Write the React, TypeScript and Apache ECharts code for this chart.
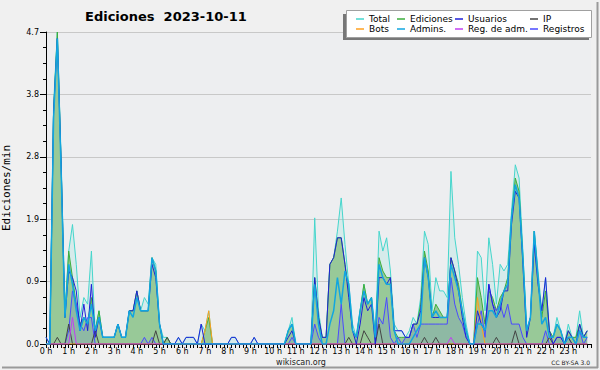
import React, { useEffect, useRef } from "react";
import * as echarts from "echarts";

// 10-minute bins (144 per day), edits per minute
const total = [
  0.1, 0, 3.6, 4.7, 2.8, 0.5,
  1.4, 1.8, 1.2, 0.4, 0.7, 0.6,
  1.4, 0.2, 0.5, 0.1, 0.1, 0.1,
  0.1, 0.3, 0.1, 0.1, 0.5, 0.5,
  0.8, 0.5, 0.7, 0.6, 1.3, 1.2,
  0.3, 0.1, 0.1, 0, 0, 0.1,
  0, 0.1, 0.1, 0.1, 0, 0.3,
  0.2, 0.5, 0, 0, 0, 0,
  0, 0.1, 0.1, 0, 0, 0,
  0, 0.1, 0, 0, 0, 0,
  0, 0, 0, 0, 0.2, 0.4,
  0, 0, 0, 0, 0, 1.9,
  0.5, 0.1, 0.1, 1.2, 1.3, 1.7,
  2.2, 1.5, 0.9, 0.3, 0.1, 0.5,
  0.9, 0.6, 0.7, 0.1, 1.7, 1.4,
  1.6, 1.1, 0.3, 0.2, 0.2, 0.1,
  0.2, 0.4, 0.3, 0.7, 1.7, 1.5,
  0.5, 1.0, 0.8, 0.8, 0.7, 2.6,
  1.6, 1.2, 0.7, 0.3, 0, 0,
  1.4, 1.3, 0.5, 1.6, 1.2, 0.6,
  1.2, 1.1, 1.2, 2.0, 2.7, 2.5,
  1.4, 0.2, 0.4, 1.7, 1.1, 0.5,
  1.0, 0.2, 0.1, 0.4, 0.2, 0,
  0.3, 0.1, 0.1, 0.5, 0.1, 0.2,
];

const ediciones = [
  0, 0, 3.5, 4.7, 2.7, 0.4,
  1.4, 1.0, 0.6, 0.3, 0.4, 0.3,
  0.7, 0.2, 0.5, 0.1, 0.1, 0.1,
  0.1, 0.3, 0.1, 0.1, 0.5, 0.5,
  0.8, 0.5, 0.5, 0.5, 1.3, 1.1,
  0.3, 0, 0.1, 0, 0, 0,
  0, 0, 0, 0, 0, 0,
  0.2, 0.4, 0, 0, 0, 0,
  0, 0, 0, 0, 0, 0,
  0, 0, 0, 0, 0, 0,
  0, 0, 0, 0, 0.2, 0.3,
  0, 0, 0, 0, 0, 1.0,
  0.4, 0.1, 0.1, 1.2, 1.3, 1.6,
  1.6, 1.2, 0.8, 0.2, 0.1, 0.5,
  0.9, 0.6, 0.7, 0.1, 1.3, 1.1,
  1.0, 1.0, 0.2, 0.1, 0.1, 0.1,
  0.1, 0.3, 0.3, 0.6, 1.4, 1.1,
  0.4, 0.6, 0.5, 0.4, 0.4, 1.3,
  1.1, 0.9, 0.5, 0.2, 0, 0,
  1.0, 0.7, 0.3, 0.8, 0.7, 0.5,
  0.7, 0.8, 1.0, 1.9, 2.5, 2.3,
  1.3, 0.2, 0.4, 1.7, 1.0, 0.4,
  0.8, 0.2, 0.1, 0.3, 0.2, 0,
  0.2, 0.1, 0.1, 0.3, 0.1, 0.2,
];

const usuarios = [
  0.1, 0, 3.5, 4.6, 2.7, 0.4,
  1.1, 1.0, 0.8, 0.2, 0.6, 0.2,
  0.9, 0.1, 0.4, 0.1, 0.1, 0.1,
  0.1, 0.3, 0.1, 0.1, 0.5, 0.5,
  0.8, 0.5, 0.5, 0.5, 1.2, 1.0,
  0.3, 0, 0, 0, 0, 0.1,
  0, 0.1, 0.1, 0.1, 0, 0.3,
  0, 0, 0, 0, 0, 0,
  0, 0.1, 0.1, 0, 0, 0,
  0, 0.1, 0, 0, 0, 0,
  0, 0, 0, 0, 0.1, 0.2,
  0, 0, 0, 0, 0, 1.0,
  0.4, 0.1, 0.1, 1.2, 1.3, 1.6,
  1.6, 1.2, 0.7, 0.2, 0, 0.3,
  0.7, 0.5, 0.6, 0, 1.0, 1.0,
  0.9, 1.0, 0.2, 0.2, 0.2, 0.1,
  0.1, 0.3, 0.3, 0.5, 1.3, 1.0,
  0.4, 0.4, 0.4, 0.4, 0.4, 1.3,
  1.1, 0.8, 0.4, 0.1, 0, 0,
  0.5, 0.3, 0.2, 0.9, 0.6, 0.4,
  0.5, 0.8, 0.8, 1.8, 2.3, 2.2,
  1.2, 0.1, 0.4, 1.5, 0.9, 0.5,
  1.0, 0.2, 0, 0.1, 0.1, 0,
  0.2, 0.1, 0, 0.3, 0.1, 0.2,
];

const ip = [
  0, 0, 0, 0.1, 0, 0,
  0.3, 0, 0, 0, 0, 0,
  0, 0.2, 0, 0, 0, 0,
  0, 0, 0, 0, 0, 0,
  0, 0, 0, 0, 0, 0.2,
  0, 0, 0.1, 0, 0, 0,
  0, 0, 0, 0, 0, 0,
  0, 0, 0, 0, 0, 0,
  0, 0, 0, 0, 0, 0,
  0, 0, 0, 0, 0, 0,
  0, 0, 0, 0, 0, 0,
  0, 0, 0, 0, 0, 0,
  0, 0, 0, 0, 0, 0,
  0, 0, 0.1, 0, 0, 0,
  0.2, 0.1, 0, 0, 0.3, 0,
  0, 0, 0, 0, 0, 0,
  0, 0, 0, 0, 0.1, 0,
  0, 0.1, 0, 0, 0, 0,
  0, 0, 0, 0, 0, 0,
  0, 0, 0, 0, 0, 0.1,
  0, 0, 0, 0, 0.2, 0,
  0, 0, 0, 0, 0, 0,
  0, 0.1, 0, 0, 0, 0,
  0.1, 0, 0, 0, 0, 0,
];

const bots = [
  0, 0, 0, 0, 0, 0,
  0, 0, 0, 0, 0, 0,
  0, 0, 0, 0, 0, 0,
  0, 0, 0, 0, 0, 0,
  0, 0, 0, 0, 0, 0,
  0, 0, 0, 0, 0, 0,
  0, 0, 0, 0, 0, 0,
  0.2, 0.5, 0, 0, 0, 0,
  0, 0, 0, 0, 0, 0,
  0, 0, 0, 0, 0, 0,
  0, 0, 0, 0, 0, 0,
  0, 0, 0, 0, 0, 0,
  0, 0, 0, 0, 0, 0,
  0, 0, 0, 0, 0, 0,
  0, 0, 0, 0, 0, 0,
  0, 0, 0, 0, 0, 0,
  0, 0, 0, 0, 0, 0,
  0, 0, 0, 0, 0, 0,
  0, 0, 0, 0, 0, 0,
  0.7, 0.3, 0, 0, 0, 0,
  0, 0, 0, 0, 0, 0,
  0, 0, 0, 0, 0, 0,
  0, 0, 0, 0, 0, 0,
  0, 0, 0, 0, 0, 0,
];

const admins = [
  0, 0, 3.4, 4.6, 2.6, 0.4,
  1.2, 0.9, 0.5, 0.2, 0.4, 0.3,
  0.6, 0.2, 0.4, 0.1, 0.1, 0.1,
  0.1, 0.3, 0.1, 0.1, 0.5, 0.4,
  0.7, 0.5, 0.5, 0.5, 1.3, 1.1,
  0.3, 0, 0, 0, 0, 0,
  0, 0, 0, 0, 0, 0,
  0, 0, 0, 0, 0, 0,
  0, 0, 0, 0, 0, 0,
  0, 0, 0, 0, 0, 0,
  0, 0, 0, 0, 0.2, 0.3,
  0, 0, 0, 0, 0, 0.9,
  0.3, 0, 0, 0.3, 0.5, 1.0,
  0.6, 1.1, 0.9, 0.2, 0.1, 0.5,
  0.8, 0.6, 0.7, 0.1, 1.2, 1.0,
  0.9, 0.9, 0.2, 0, 0, 0,
  0, 0.1, 0.2, 0.3, 1.3, 1.0,
  0.4, 0.5, 0.4, 0.4, 0.4, 1.2,
  1.0, 0.8, 0.5, 0.2, 0, 0,
  0.3, 0.3, 0.2, 0.5, 0.5, 0.4,
  0.6, 0.8, 0.9, 1.9, 2.4, 2.2,
  1.3, 0.2, 0.4, 1.7, 1.0, 0.3,
  0.4, 0.1, 0.1, 0.3, 0.2, 0,
  0.1, 0.1, 0, 0.2, 0.1, 0.1,
];

const regAdm = [
  0, 0, 0, 0, 0, 0,
  0, 0.4, 0, 0, 0, 0,
  0, 0, 0, 0, 0, 0,
  0, 0, 0, 0, 0, 0,
  0, 0, 0, 0, 0, 0,
  0, 0, 0, 0, 0, 0,
  0, 0, 0, 0, 0, 0,
  0, 0, 0, 0, 0, 0,
  0, 0, 0, 0, 0, 0,
  0, 0, 0, 0, 0, 0,
  0, 0, 0, 0, 0, 0,
  0, 0, 0, 0, 0, 0,
  0, 0, 0, 0, 0, 0,
  0, 0, 0, 0, 0, 0,
  0, 0, 0, 0, 0, 0,
  0, 0, 0, 0, 0, 0,
  0, 0, 0, 0, 0, 0,
  0, 0, 0, 0, 0, 0.1,
  0, 0, 0, 0, 0, 0,
  0, 0, 0, 0, 0, 0,
  0, 0, 0, 0, 0, 0,
  0, 0, 0, 0, 0, 0,
  0, 0, 0, 0, 0, 0,
  0, 0, 0, 0, 0, 0,
];

const registros = [
  0, 0, 0, 0, 0, 0,
  0.2, 0.8, 0.6, 0.3, 0.2, 0.4,
  0.4, 0, 0, 0, 0, 0,
  0, 0, 0, 0, 0, 0,
  0, 0, 0.1, 0, 0.1, 0,
  0, 0, 0, 0, 0, 0,
  0, 0, 0, 0, 0, 0,
  0, 0, 0, 0, 0, 0,
  0, 0, 0, 0, 0, 0,
  0, 0, 0, 0, 0, 0,
  0, 0, 0, 0, 0, 0.1,
  0, 0, 0, 0, 0, 0.3,
  0.1, 0, 0, 0, 0, 0,
  0.6, 0, 0, 0, 0, 0,
  0, 0, 0, 0, 0.4, 0.3,
  0.7, 0.1, 0, 0.1, 0, 0.1,
  0.1, 0.3, 0.1, 0.3, 0.3, 0.3,
  0.3, 0.3, 0.3, 0.3, 0.3, 1.0,
  0.6, 0.4, 0.3, 0.1, 0, 0,
  0.3, 0.5, 0.1, 0.9, 0.6, 0.5,
  0.6, 0.4, 0.6, 0.3, 0.3, 0.3,
  0.1, 0, 0, 0, 0, 0,
  0.2, 0, 0, 0.1, 0.1, 0,
  0.1, 0, 0, 0.2, 0, 0.1,
];

const hourLabels = Array.from({ length: 24 }, (_, h) => `${h} h`);
const yTickLabels = ["0.0", "0.9", "1.9", "2.8", "3.8", "4.7"];
const legendColumns = [
  ["Total", "Bots"],
  ["Ediciones", "Admins."],
  ["Usuarios", "Reg. de adm."],
  ["IP", "Registros"],
];
const legendX = [356, 397, 455, 530];

const toPairs = (arr: number[]) => arr.map((v, i) => [i / 6, v]);

function line(name: string, arr: number[], color: string, width: number, z: number, area?: string) {
  return {
    type: "line",
    name,
    data: toPairs(arr),
    showSymbol: false,
    symbol: "none",
    z,
    lineStyle: { color, width },
    itemStyle: { color },
    areaStyle: area ? { color: area, opacity: 1 } : undefined,
    emphasis: { disabled: true },
  };
}

export default function App() {
  const ref = useRef<HTMLDivElement>(null);
  useEffect(() => {
    if (!ref.current) return;
    const chart = echarts.init(ref.current, undefined, { renderer: "svg" });
    const font = "DejaVu Sans";
    chart.setOption({
      animation: false,
      backgroundColor: "#f0f0f0",
      title: {
        text: "Ediciones  2023-10-11",
        left: 85,
        top: 10,
        padding: 0,
        textStyle: { fontSize: 13, fontWeight: "bold", fontFamily: font, color: "#000" },
      },
      legend: legendColumns.map((names, c) => ({
        data: names,
        orient: "vertical",
        left: legendX[c],
        top: 14,
        itemGap: 0,
        itemWidth: 8,
        itemHeight: 1.5,
        icon: "rect",
        padding: 0,
        selectedMode: false,
        z: 10,
        textStyle: { fontSize: 9, fontFamily: font, color: "#000", lineHeight: 10 },
      })),
      graphic: [
        { type: "line", z: 1, shape: { x1: 597.5, y1: 2, x2: 597.5, y2: 368 }, style: { stroke: "#9a9a9a", lineWidth: 2 } },
        { type: "line", z: 1, shape: { x1: 2, y1: 367.5, x2: 598, y2: 367.5 }, style: { stroke: "#9a9a9a", lineWidth: 2 } },
        { type: "rect", z: 5, shape: { x: 343, y: 14, width: 246, height: 26 }, style: { fill: "#777" } },
        { type: "rect", z: 6, shape: { x: 346.5, y: 10.5, width: 245, height: 27 }, style: { fill: "#fff", stroke: "#a0a0a0", lineWidth: 1 } },
        { type: "text", z: 6, x: 301, y: 362, style: { text: "wikiscan.org", fill: "#222", font: `8px '${font}'`, textAlign: "center", textVerticalAlign: "middle" } },
        { type: "text", z: 6, x: 590, y: 362, style: { text: "CC BY-SA 3.0", fill: "#222", font: `6px '${font}'`, textAlign: "right", textVerticalAlign: "middle" } },
      ],
      grid: {
        left: 46,
        right: 9,
        top: 32,
        bottom: 26,
        show: true,
        backgroundColor: "#edeef0",
        borderWidth: 0,
        containLabel: false,
        outerBoundsMode: "none",
      },
      xAxis: {
        type: "value",
        min: 0,
        max: 24,
        interval: 1,
        axisLine: { show: true, lineStyle: { color: "#000", width: 1 } },
        axisTick: { show: true, length: 4, lineStyle: { color: "#000" } },
        minorTick: { show: true, splitNumber: 6, length: 4, lineStyle: { color: "#000" } },
        splitLine: { show: false },
        axisLabel: {
          fontSize: 8,
          fontFamily: font,
          color: "#000",
          margin: 3,
          formatter: (v: number) => hourLabels[Math.round(v)] ?? "",
        },
      },
      yAxis: {
        type: "value",
        min: 0,
        max: 4.7,
        interval: 0.94,
        name: "Ediciones/min",
        nameLocation: "middle",
        nameGap: 34,
        nameTextStyle: { fontFamily: "DejaVu Sans Mono", fontSize: 11, color: "#000" },
        axisLine: { show: true, lineStyle: { color: "#000", width: 1 } },
        axisTick: { show: true, length: 6, lineStyle: { color: "#000" } },
        minorTick: { show: true, splitNumber: 4, length: 3, lineStyle: { color: "#000" } },
        splitLine: { show: true, lineStyle: { color: "#c8c8c8", width: 1 } },
        axisLabel: {
          fontSize: 8,
          fontFamily: font,
          color: "#000",
          margin: 7,
          formatter: (v: number) => yTickLabels[Math.round(v / 0.94)] ?? "",
        },
      },
      series: [
        line("Total", total, "#45d6cc", 1, 2, "rgba(64,220,200,0.13)"),
        line("Ediciones", ediciones, "#3cae3c", 1, 3, "#98c998"),
        line("Registros", registros, "#4a4aff", 1, 4, "rgba(70,70,255,0.12)"),
        line("IP", ip, "#444444", 1, 5),
        line("Bots", bots, "#ffa020", 1, 6),
        line("Reg. de adm.", regAdm, "#c040f0", 1, 7),
        line("Usuarios", usuarios, "#2020d8", 1, 8),
        line("Admins.", admins, "#12a6e0", 1.5, 9),
      ],
    });
    return () => chart.dispose();
  }, []);
  return <div ref={ref} style={{ position: "absolute", left: 0, top: 0, width: 600, height: 370 }} />;
}
